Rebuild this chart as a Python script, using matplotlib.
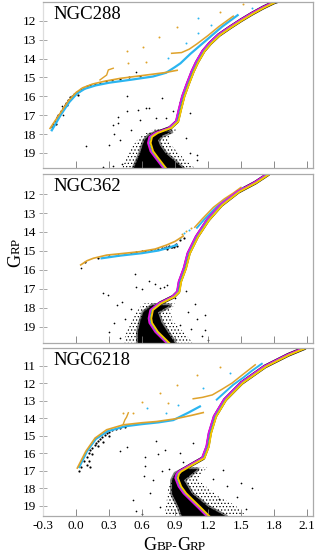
import matplotlib
matplotlib.use('Agg')
import matplotlib.pyplot as plt
import matplotlib.transforms as mtransforms

plt.rcParams['font.family'] = 'Liberation Serif'
plt.rcParams['axes.unicode_minus'] = False
plt.rcParams['hatch.linewidth'] = 0.5

# ---- NGC288 ----
iso288_x = [0.81, 0.74, 0.69, 0.667, 0.68, 0.733, 0.855, 0.92, 0.945, 0.976, 1.02, 1.06, 1.10, 1.16, 1.22, 1.30, 1.40, 1.50, 1.60, 1.70, 1.80, 1.86]
iso288_y = [19.83, 19.3, 18.91, 18.47, 18.15, 17.94, 17.68, 17.33, 16.71, 16.0, 15.3, 14.7, 14.2, 13.6, 13.19, 12.75, 12.35, 11.97, 11.62, 11.3, 11.02, 10.9]
hbo288_x = [-0.236, -0.15, -0.07, 0.0, 0.06, 0.15, 0.26, 0.4, 0.6, 0.8, 0.92]
hbo288_y = [17.7, 16.95, 16.25, 15.8, 15.55, 15.35, 15.2, 15.05, 14.9, 14.75, 14.62]
hook288_x = [0.218, 0.279, 0.294, 0.339]
hook288_y = [15.13, 14.87, 14.6, 14.51]
hbc288_x = [-0.22, -0.14, -0.06, 0.01, 0.08, 0.18, 0.3, 0.5, 0.7, 0.82, 0.9, 0.95, 1.04, 1.12, 1.22, 1.33, 1.47]
hbc288_y = [17.8, 17.0, 16.3, 15.85, 15.6, 15.42, 15.28, 15.12, 14.95, 14.75, 14.45, 14.25, 13.75, 13.35, 12.85, 12.3, 11.7]
agbo288_x = [0.87, 0.96, 1.03, 1.10, 1.20, 1.30, 1.43]
agbo288_y = [13.72, 13.68, 13.5, 13.22, 12.78, 12.3, 11.75]
halo288_y = [19.8, 19.4, 19.0, 18.6, 18.3, 18.0, 17.75]
halo288_l = [0.42, 0.45, 0.48, 0.52, 0.56, 0.62, 0.72]
halo288_r = [1.08, 1.0, 0.93, 0.87, 0.83, 0.87, 0.92]
core288_y = [19.8, 19.4, 19.0, 18.6, 18.3, 18.05, 17.85]
core288_l = [0.52, 0.55, 0.58, 0.60, 0.62, 0.66, 0.74]
core288_r = [0.97, 0.89, 0.81, 0.76, 0.74, 0.78, 0.86]
s288_x = [-0.13, -0.115, 0.09, 0.34, 0.38, 0.46, 0.46, 0.56, 0.64, 0.73, 0.78, 0.66, 0.385, 0.58, 0.82, 1.036, 1.097, 1.036, 0.55, 0.35, 0.3, 0.25, 0.42, 0.5, 0.95, 1.0, 0.34, 0.88, 1.1, 0.4]
s288_y = [16.5, 16.98, 18.65, 17.5, 17.08, 16.8, 16.0, 16.7, 16.6, 17.15, 16.1, 16.62, 17.4, 17.24, 17.15, 16.89, 19.35, 18.98, 14.7, 18.0, 18.6, 19.75, 19.6, 17.8, 16.3, 18.2, 19.7, 16.8, 19.1, 18.3]
hbs288_x = [-0.22, -0.21, -0.19, -0.17, -0.16, -0.14, -0.12, -0.1, -0.09, -0.07, -0.05, -0.04, -0.02, 0.0, 0.01, 0.03, 0.05, 0.07, 0.1, 0.13, 0.17, 0.22, 0.27, 0.33, 0.4, 0.48, 0.58, -0.18, -0.08, 0.02]
hbs288_y = [17.6, 17.45, 17.3, 17.1, 17.0, 16.8, 16.62, 16.45, 16.35, 16.2, 16.05, 15.98, 15.9, 15.82, 15.78, 15.7, 15.62, 15.55, 15.45, 15.42, 15.35, 15.3, 15.2, 15.15, 15.07, 15.0, 14.92, 17.45, 16.45, 15.95]
do288_x = [0.47, 0.46, 0.64, 0.61, 0.755, 0.915, 1.31, 1.52]
do288_y = [14.25, 13.6, 14.2, 13.37, 12.84, 12.32, 11.52, 11.12]
dc288_x = [1.11, 1.23, 1.0, 1.11, 0.84, 1.6]
dc288_y = [11.87, 12.23, 13.19, 12.66, 13.98, 11.3]

# ---- NGC362 ----
iso362_x = [0.84, 0.733, 0.68, 0.673, 0.688, 0.764, 0.885, 0.93, 0.945, 0.99, 1.025, 1.10, 1.20, 1.32, 1.475, 1.63, 1.75]
iso362_y = [19.88, 19.27, 18.8, 18.56, 18.12, 17.77, 17.42, 17.16, 16.63, 15.92, 15.13, 14.25, 13.37, 12.58, 11.88, 11.4, 10.94]
hbo362_x = [0.043, 0.1, 0.157, 0.28, 0.45, 0.58, 0.72, 0.824, 0.9, 0.975]
hbo362_y = [15.74, 15.52, 15.39, 15.22, 15.12, 15.04, 14.9, 14.69, 14.5, 14.22]
hbc362_x = [0.233, 0.4, 0.6, 0.75, 0.85, 0.915]
hbc362_y = [15.39, 15.25, 15.12, 14.98, 14.82, 14.69]
agbo362_x = [1.08, 1.15, 1.25, 1.35, 1.43, 1.5]
agbo362_y = [13.75, 13.3, 12.7, 12.25, 11.95, 11.65]
agbc362_x = [1.1, 1.17, 1.27, 1.37, 1.45, 1.52]
agbc362_y = [13.78, 13.32, 12.72, 12.25, 11.95, 11.68]
halo362_y = [19.88, 19.27, 18.74, 18.21, 17.77]
halo362_l = [0.43, 0.46, 0.506, 0.55, 0.61]
halo362_r = [1.067, 0.975, 0.885, 0.855, 0.9]
core362_y = [19.88, 19.27, 18.74, 18.21, 17.85]
core362_l = [0.56, 0.56, 0.58, 0.61, 0.69]
core362_r = [0.9, 0.83, 0.77, 0.74, 0.85]
s362_x = [0.05, 0.245, 0.29, 0.37, 0.42, 0.54, 0.3, 0.6, 0.72, 0.8, 0.95, 1.05, 1.1, 1.15, 0.5, 0.45, 0.35, 1.0, 0.9, 0.66, 0.4, 1.2, 1.08, 0.55, 0.764, 0.824, 1.02, 1.17, 1.17]
s362_y = [15.9, 17.22, 17.35, 17.86, 17.7, 16.2, 19.3, 17.0, 16.75, 16.9, 18.9, 19.1, 18.6, 19.5, 18.05, 18.6, 18.8, 17.1, 17.5, 16.6, 19.6, 19.7, 17.8, 16.9, 16.98, 16.8, 18.21, 18.38, 19.2]
hbs362_x = [0.08, 0.2, 0.3, 0.38, 0.45, 0.5, 0.55, 0.6, 0.63, 0.68, 0.72, 0.75, 0.78, 0.8, 0.82, 0.84, 0.86, 0.88, 0.9, 0.92, 0.87, 0.85, 0.89, 0.83, 0.91, 0.95, 0.98]
hbs362_y = [15.6, 15.35, 15.25, 15.2, 15.15, 15.12, 15.05, 15.0, 15.03, 14.97, 14.95, 14.9, 14.87, 14.85, 14.82, 14.8, 14.78, 14.75, 14.7, 14.72, 14.82, 14.72, 14.8, 14.9, 14.66, 14.4, 14.3]
do362_x = [1.0, 1.05, 0.96]
do362_y = [13.95, 13.78, 14.1]
dc362_x = [1.03, 0.98, 0.95]
dc362_y = [13.9, 14.05, 14.3]

# ---- NGC6218 ----
iso6218_x = [1.2, 1.12, 1.05, 0.99, 0.945, 0.915, 0.925, 0.945, 1.05, 1.157, 1.197, 1.218, 1.264, 1.355, 1.506, 1.718, 1.93, 2.08]
iso6218_y = [19.6, 19.1, 18.67, 18.3, 17.91, 17.43, 17.2, 17.06, 16.67, 16.29, 15.63, 14.86, 13.91, 12.96, 12.0, 11.06, 10.39, 10.0]
hbo6218_x = [0.012, 0.09, 0.173, 0.279, 0.43, 0.6, 0.734, 0.9, 1.05, 1.157]
hbo6218_y = [16.86, 15.9, 15.15, 14.67, 14.39, 14.27, 14.2, 14.05, 13.85, 13.69]
hook6218_x = [0.43, 0.445, 0.46, 0.476]
hook6218_y = [14.35, 14.1, 13.95, 13.7]
hbc6218_x = [0.03, 0.1, 0.18, 0.29, 0.45, 0.6, 0.75, 0.885, 1.02, 1.127]
hbc6218_y = [16.8, 15.9, 15.2, 14.75, 14.47, 14.35, 14.25, 14.12, 13.7, 13.34]
agbo6218_x = [1.066, 1.15, 1.24, 1.33, 1.42, 1.52, 1.63]
agbo6218_y = [12.9, 12.82, 12.68, 12.35, 12.0, 11.5, 10.96]
agbc6218_x = [1.28, 1.35, 1.43, 1.52, 1.6, 1.69]
agbc6218_y = [12.95, 12.55, 12.1, 11.7, 11.3, 10.9]
halo6218_y = [19.6, 19.0, 18.5, 18.0, 17.5, 17.1, 16.8]
halo6218_l = [0.8, 0.82, 0.83, 0.84, 0.87, 0.93, 1.0]
halo6218_r = [1.55, 1.45, 1.3, 1.2, 1.1, 1.15, 1.2]
core6218_y = [19.6, 19.06, 18.3, 17.53, 17.15, 16.9]
core6218_l = [0.96, 0.93, 0.87, 0.87, 0.9, 0.98]
core6218_r = [1.36, 1.2, 1.05, 0.975, 1.05, 1.1]
s6218_x = [0.73, 0.81, 0.63, 0.976, 0.627, 0.46, 0.75, 0.70, 1.066, 1.127, 0.67, 0.764, 1.34, 1.37, 1.46, 0.55, 0.6, 0.52, 0.85, 0.95, 1.25, 1.55, 1.6, 0.4, 0.62, 0.78, 1.3, 1.5]
s6218_y = [15.34, 15.8, 16.2, 16.49, 16.77, 15.63, 16.05, 17.53, 15.43, 16.39, 18.29, 19.06, 16.96, 17.91, 18.49, 19.3, 19.5, 18.7, 16.9, 16.0, 17.5, 19.2, 18.0, 15.9, 17.3, 17.0, 18.6, 17.7]
hbs6218_x = [0.03, 0.05, 0.07, 0.1, 0.12, 0.13, 0.15, 0.17, 0.18, 0.2, 0.22, 0.24, 0.26, 0.28, 0.3, 0.33, 0.36, 0.4, 0.45, 0.12, 0.15, 0.2, 0.25, 0.3, 0.1, 0.13]
hbs6218_y = [17.05, 16.8, 16.45, 16.2, 16.0, 15.85, 15.7, 15.55, 15.4, 15.3, 15.2, 15.1, 14.95, 14.85, 14.8, 14.7, 14.62, 14.55, 14.5, 16.45, 16.05, 15.6, 15.35, 15.05, 16.7, 16.8]
do6218_x = [0.764, 0.6, 0.915, 1.1, 1.31, 0.43, 0.52, 0.84]
do6218_y = [12.58, 13.06, 12.1, 11.53, 11.06, 13.72, 13.72, 13.15]
dc6218_x = [0.93, 0.82, 1.157, 1.4, 0.65]
dc6218_y = [13.25, 13.72, 12.29, 11.43, 13.4]

names = ['NGC288', 'NGC362', 'NGC6218']
ylims = [(19.8, 11.0), (19.86, 10.94), (19.6, 10.0)]
yticks = [list(range(12, 20)), list(range(12, 20)), list(range(11, 20))]
xticks = [-0.3, 0.0, 0.3, 0.6, 0.9, 1.2, 1.5, 1.8, 2.1]

panels = [
    (iso288_x, iso288_y, hbo288_x, hbo288_y, hook288_x, hook288_y, hbc288_x, hbc288_y,
     agbo288_x, agbo288_y, None, None, halo288_y, halo288_l, halo288_r, core288_y, core288_l, core288_r,
     s288_x, s288_y, hbs288_x, hbs288_y, do288_x, do288_y, dc288_x, dc288_y),
    (iso362_x, iso362_y, hbo362_x, hbo362_y, None, None, hbc362_x, hbc362_y,
     agbo362_x, agbo362_y, agbc362_x, agbc362_y, halo362_y, halo362_l, halo362_r, core362_y, core362_l, core362_r,
     s362_x, s362_y, hbs362_x, hbs362_y, do362_x, do362_y, dc362_x, dc362_y),
    (iso6218_x, iso6218_y, hbo6218_x, hbo6218_y, hook6218_x, hook6218_y, hbc6218_x, hbc6218_y,
     agbo6218_x, agbo6218_y, agbc6218_x, agbc6218_y, halo6218_y, halo6218_l, halo6218_r, core6218_y, core6218_l, core6218_r,
     s6218_x, s6218_y, hbs6218_x, hbs6218_y, do6218_x, do6218_y, dc6218_x, dc6218_y),
]

MAG = '#e012e0'
YEL = '#f7c800'
CYA = '#2bb5f0'
ORA = '#dfa22a'

fig = plt.figure(figsize=(3.15, 5.56), dpi=100)
boxes = [(0.1365, 0.6978, 0.857, 0.2986), (0.1365, 0.3831, 0.857, 0.304), (0.1365, 0.0719, 0.857, 0.3022)]

for i, p in enumerate(panels):
    (ix, iy, ox, oy, hx, hy, cx, cy, ax_, ay_, acx, acy, hay, hal, har, coy, col, cor,
     sx, sy, bx, by, dox, doy, dcx, dcy) = p
    ax = fig.add_axes(boxes[i])
    left = mtransforms.offset_copy(ax.transData, fig, x=-0.9, units='points')
    right = mtransforms.offset_copy(ax.transData, fig, x=0.9, units='points')

    # star cloud: sparse speckle, denser speckle, dense core
    ax.fill_betweenx(hay, hal, har, facecolor='none', edgecolor='black', hatch='.....', lw=0)
    ax.fill_betweenx(coy, col, cor, facecolor='none', edgecolor='black', hatch='..........', lw=0)
    ax.fill_betweenx(coy, col, cor, color='black', lw=3, alpha=0.5)
    ax.fill_betweenx(coy, col, cor, color='black', lw=0)
    ax.plot(ix, iy, color='black', lw=2.8, solid_capstyle='round')
    ax.scatter(sx, sy, s=1.5, color='black', lw=0)
    ax.scatter(bx, by, s=2.5, color='black', lw=0)
    ax.scatter(dox, doy, s=2, color=ORA, lw=0)
    ax.scatter(dcx, dcy, s=2, color=CYA, lw=0)

    # models
    ax.plot(cx, cy, color=CYA, lw=1.6)
    ax.plot(ox, oy, color=ORA, lw=1.2)
    if hx is not None:
        ax.plot(hx, hy, color=ORA, lw=1.0)
    if acx is not None:
        ax.plot(acx, acy, color=CYA, lw=1.4)
    ax.plot(ax_, ay_, color=ORA, lw=1.1)
    ax.plot(ix, iy, color=MAG, lw=1.5, transform=left)
    ax.plot(ix, iy, color=CYA, lw=0.6)
    ax.plot(ix, iy, color=YEL, lw=1.4, transform=right)

    ax.set_xlim(-0.3, 2.155)
    ax.set_ylim(*ylims[i])
    ax.set_yticks(yticks[i])
    ax.set_xticks(xticks)
    ax.tick_params(axis='y', direction='inout', length=6, width=0.6, color='#999999', labelsize=9.5, pad=2)
    ax.tick_params(axis='x', direction='in', length=5, width=0.6, color='#777777', labelsize=9.5, pad=3)
    if i < 2:
        ax.set_xticklabels([])
    else:
        ax.set_xticklabels(['%.1f' % t for t in xticks])
    for s in ax.spines.values():
        s.set_color('#aaaaaa')
        s.set_linewidth(0.9)
    ax.spines['left'].set_color('#dddddd')
    ax.text(0.037, 0.975, names[i], transform=ax.transAxes, ha='left', va='top', fontsize=13.5)

# axis labels with small caps
fig.canvas.draw()
r = fig.canvas.get_renderer()

def small_caps(parts, x0, y0, rot):
    x, y = x0, y0
    for s, size in parts:
        t = fig.text(x, y, s, fontsize=size, rotation=rot, rotation_mode='anchor', ha='left', va='baseline')
        bb = t.get_window_extent(r)
        if rot == 0:
            x += bb.width / fig.bbox.width
        else:
            y += bb.height / fig.bbox.height

small_caps([('G', 13), ('BP-', 9.5), ('G', 13), ('RP', 9.5)], 143 / 315, 6 / 556, 0)
small_caps([('G', 13), ('RP', 9.5)], 20 / 315, (556 - 267) / 556, 90)

fig.savefig('out.png', dpi=100)
